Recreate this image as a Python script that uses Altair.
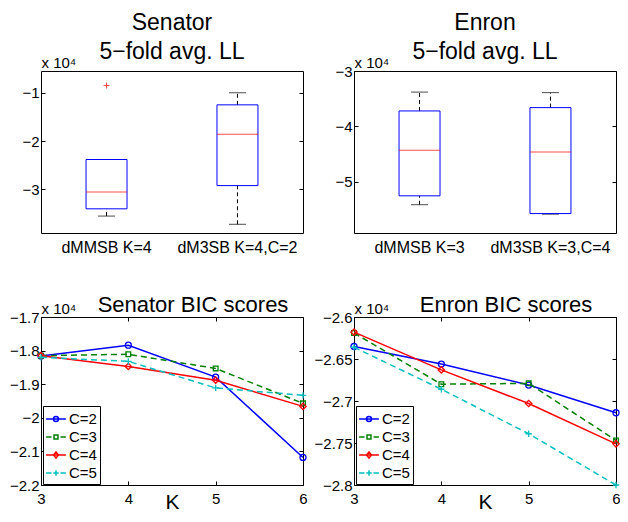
import altair as alt
import pandas as pd

FONT = "Liberation Sans"

# ---------------- box plot data (raw values) ----------------
sen_models = ["dMMSB K=4", "dM3SB K=4,C=2"]
sen_lo = [-35500, -37200]
sen_q1 = [-34000, -29200]
sen_med = [-30500, -18600]
sen_q3 = [-23800, -12500]
sen_hi = [-23800, -10000]
sen_out_model = ["dMMSB K=4"]
sen_out_val = [-8500]
sen_yticks = [-30000, -20000, -10000]

enr_models = ["dMMSB K=3", "dM3SB K=3,C=4"]
enr_lo = [-54100, -55800]
enr_q1 = [-52500, -55700]
enr_med = [-44300, -44600]
enr_q3 = [-37200, -36600]
enr_hi = [-33800, -33900]
enr_out_model = []
enr_out_val = []
enr_yticks = [-50000, -40000, -30000]

# ---------------- BIC data (raw values) ----------------
K = [3, 4, 5, 6]
series = ["C=2", "C=3", "C=4", "C=5"]
sen_bic_c2 = [-18160, -17840, -18790, -21180]
sen_bic_c3 = [-18150, -18110, -18530, -19570]
sen_bic_c4 = [-18150, -18470, -18880, -19660]
sen_bic_c5 = [-18200, -18320, -19110, -19330]
sen_bic_yticks = [-22000, -21000, -20000, -19000, -18000, -17000]

enr_bic_c2 = [-26350, -26560, -26810, -27140]
enr_bic_c3 = [-26190, -26800, -26790, -27470]
enr_bic_c4 = [-26180, -26630, -27030, -27510]
enr_bic_c5 = [-26360, -26860, -27390, -28000]
enr_bic_yticks = [-28000, -27500, -27000, -26500, -26000]

# ---------------- styles ----------------
colors = ["#0000FF", "#008000", "#FF0000", "#00BFBF"]
dashes = [None, [6, 4], None, [6, 4]]
markers = ["circle", "square", "diamond", "M-1,0H1M0,-1V1"]
marker_sizes = [36, 22, 40, 40]
legend_paths = [
    "M-1.1,0H1.1M0.28,0A0.28,0.28 0 1,1 -0.28,0A0.28,0.28 0 1,1 0.28,0",
    "M-1.1,0H-0.5M0.5,0H1.1M-0.22,-0.22H0.22V0.22H-0.22Z",
    "M-1.1,0H1.1M0,-0.34L0.28,0L0,0.34L-0.28,0Z",
    "M-1.1,0H-0.5M0.5,0H1.1M-0.3,0H0.3M0,-0.3V0.3",
]

W = 262
TICK = 4
LAB = 15


def fmt_expr():
    return "format(datum.value / 10000, '.4~g')"


def y_main_axis(values):
    return alt.Axis(orient="left", offset=-TICK, tickSize=TICK, domain=False,
                    values=values, labelExpr=fmt_expr(), labelFont=FONT,
                    labelFontSize=LAB, labelPadding=2, labelColor="black",
                    tickColor="black", grid=False,
                    title="x 10\u2074", titleAngle=0, titleAlign="left",
                    titleBaseline="alphabetic", titleX=-TICK, titleY=-4,
                    titleFont=FONT, titleFontSize=15, titleFontWeight="normal",
                    titleColor="black")


def y_mirror_axis(values):
    return alt.Axis(orient="right", offset=-TICK, tickSize=TICK, domain=False,
                    values=values, labels=False, tickColor="black", grid=False,
                    title=None)


def box_panel(models, lo, q1, med, q3, hi, out_m, out_v, ydom, yticks, title):
    df = pd.DataFrame({"model": models, "lo": lo, "q1": q1, "med": med,
                       "q3": q3, "hi": hi})
    dfo = pd.DataFrame({"model": out_m, "val": out_v})
    xs = alt.Scale(domain=models, paddingInner=0.687, paddingOuter=0.344)
    ys = alt.Scale(domain=ydom, nice=False, zero=False)
    x_main = alt.X("model:N", scale=xs, sort=models,
                   axis=alt.Axis(orient="bottom", ticks=False, domain=False,
                                 labelAngle=0, labelFont=FONT, labelFontSize=16,
                                 labelPadding=6, labelColor="black", title=None))
    x_none = alt.X("model:N", scale=xs, sort=models, axis=None)
    base = alt.Chart(df)
    up = base.mark_rule(color="black", strokeDash=[4, 3], strokeWidth=1).encode(
        x=x_none, y=alt.Y("q3:Q", scale=ys, axis=None), y2="hi:Q")
    dn = base.mark_rule(color="black", strokeDash=[4, 3], strokeWidth=1).encode(
        x=x_none, y=alt.Y("lo:Q", scale=ys, axis=None), y2="q1:Q")
    cap_hi = base.mark_tick(color="black", size=17, thickness=1).encode(
        x=x_none, y=alt.Y("hi:Q", scale=ys, axis=y_mirror_axis(yticks)))
    cap_lo = base.mark_tick(color="black", size=17, thickness=1).encode(
        x=x_none, y=alt.Y("lo:Q", scale=ys, axis=None))
    box = base.mark_bar(fillOpacity=0, stroke="#0000FF", strokeWidth=1).encode(
        x=x_main, y=alt.Y("q1:Q", scale=ys, axis=y_main_axis(yticks)), y2="q3:Q")
    mid = base.mark_tick(color="#FF0000", size=41, thickness=1).encode(
        x=x_none, y=alt.Y("med:Q", scale=ys, axis=None))
    layers = [up, dn, cap_hi, cap_lo, box, mid]
    if len(out_v):
        outl = alt.Chart(dfo).mark_point(shape="M-1,0H1M0,-1V1", filled=False,
                                         color="#FF0000", size=36, strokeWidth=1).encode(
            x=x_none, y=alt.Y("val:Q", scale=ys, axis=None))
        layers.append(outl)
    return alt.layer(*layers).resolve_axis(x="independent", y="independent").properties(
        width=W, height=162,
        title=alt.TitleParams(text=title, font=FONT, fontSize=23, lineHeight=29,
                              fontWeight="normal", color="black", offset=-9))


def bic_panel(vals, ydom, yticks, title, dx):
    rows = []
    for s, v in zip(series, vals):
        for k, y in zip(K, v):
            rows.append({"K": k, "val": y, "series": s})
    df = pd.DataFrame(rows)
    xs = alt.Scale(domain=[3, 6], nice=False, zero=False)
    ys = alt.Scale(domain=ydom, nice=False, zero=False)
    x_main = alt.X("K:Q", scale=xs, axis=alt.Axis(
        orient="bottom", offset=-TICK, tickSize=TICK, domain=False, values=K,
        format="d", labelFlush=False, labelFont=FONT, labelFontSize=LAB,
        labelPadding=6, labelColor="black", tickColor="black", grid=False,
        title="K", titleFont=FONT, titleFontSize=21, titleFontWeight="normal",
        titleColor="black", titlePadding=-15))
    x_mirror = alt.X("K:Q", scale=xs, axis=alt.Axis(
        orient="top", offset=-TICK, tickSize=TICK, domain=False, values=K,
        labels=False, tickColor="black", grid=False, title=None))
    x_none = alt.X("K:Q", scale=xs, axis=None)
    legend = alt.Legend(
        title=None, orient="none", legendX=2, legendY=89,
        fillColor="white", strokeColor="black", padding=3,
        symbolSize=324, symbolStrokeWidth=1.5,
        labelFont=FONT, labelFontSize=LAB, labelColor="black",
        labelOffset=3, rowPadding=0, cornerRadius=0)
    layers = []
    for i, s in enumerate(series):
        sub = alt.Chart(df).transform_filter(alt.datum.series == s)
        kw = dict(color=colors[i], strokeWidth=1.5)
        if dashes[i]:
            kw["strokeDash"] = dashes[i]
        ln = sub.mark_line(**kw).encode(
            x=x_main if i == 0 else x_none,
            y=alt.Y("val:Q", scale=ys, axis=y_main_axis(yticks) if i == 0 else None))
        pt = sub.mark_point(shape=markers[i], filled=False, color=colors[i],
                            size=marker_sizes[i], strokeWidth=1.3, opacity=1).encode(
            x=x_none, y=alt.Y("val:Q", scale=ys, axis=None))
        layers += [ln, pt]
    leg = alt.Chart(df).transform_filter("false").mark_point(
        filled=False, strokeWidth=1.5, opacity=1).encode(
        x=x_mirror,
        y=alt.Y("val:Q", scale=ys, axis=y_mirror_axis(yticks)),
        color=alt.Color("series:N", scale=alt.Scale(domain=series, range=colors),
                        legend=legend),
        shape=alt.Shape("series:N", scale=alt.Scale(domain=series, range=legend_paths),
                        legend=legend),
    )
    layers.append(leg)
    return alt.layer(*layers).resolve_axis(x="independent", y="independent").properties(
        width=W, height=168,
        title=alt.TitleParams(text=title, font=FONT, fontSize=22, fontWeight="normal",
                              color="black", offset=-16, dx=dx))


p1 = box_panel(sen_models, sen_lo, sen_q1, sen_med, sen_q3, sen_hi,
               sen_out_model, sen_out_val, [-39000, -5500], sen_yticks,
               ["Senator", "5\u2212fold avg. LL"])
p2 = box_panel(enr_models, enr_lo, enr_q1, enr_med, enr_q3, enr_hi,
               enr_out_model, enr_out_val, [-59200, -30000], enr_yticks,
               ["Enron", "5\u2212fold avg. LL"])
p3 = bic_panel([sen_bic_c2, sen_bic_c3, sen_bic_c4, sen_bic_c5],
               [-22000, -17000], sen_bic_yticks, "Senator BIC scores", 21)
p4 = bic_panel([enr_bic_c2, enr_bic_c3, enr_bic_c4, enr_bic_c5],
               [-28000, -26000], enr_bic_yticks, "Enron BIC scores", 21)

# fixed canvas of 612 x 506 px; first plot area starts at (33, 63) inside it
chart = alt.concat(p1, p2, p3, p4, columns=2, spacing={"row": 37, "column": 3},
                   align="each").resolve_scale(
    color="independent", shape="independent").resolve_legend(
    color="independent", shape="independent").properties(
    autosize=alt.AutoSizeParams(type="none"),
    padding={"left": 33, "top": 63, "right": 579, "bottom": 443},
    background="white",
).configure_view(stroke="black", strokeWidth=1)

chart.save("out.html", embed_options={"renderer": "svg", "actions": False})
